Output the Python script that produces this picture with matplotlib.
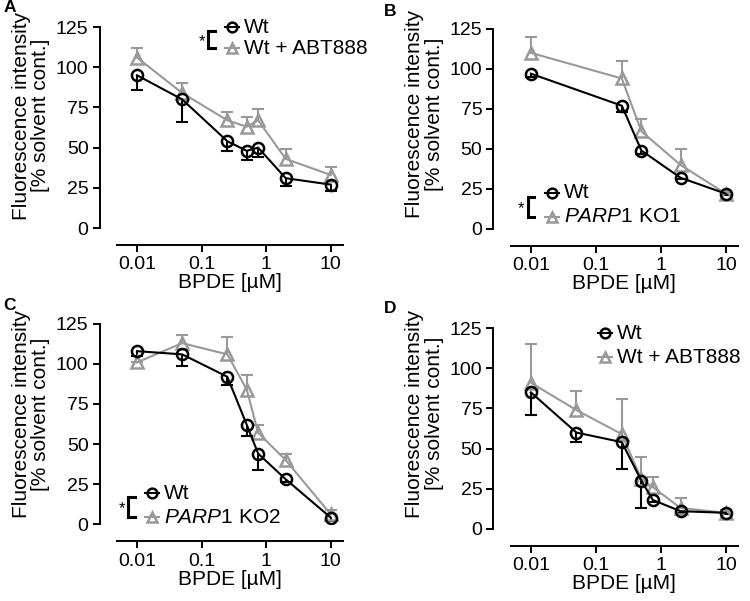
import matplotlib
matplotlib.use("Agg")
import matplotlib.pyplot as plt
from matplotlib.ticker import FixedLocator, LogLocator, NullFormatter

plt.rcParams['font.family'] = ['Liberation Sans', 'DejaVu Sans']
plt.rcParams['mathtext.fontset'] = 'custom'
plt.rcParams['mathtext.it'] = 'Liberation Sans:italic'
plt.rcParams['mathtext.rm'] = 'Liberation Sans'

GRAY = '#999999'

# BPDE concentrations [uM]
dose_full = [0.01, 0.05, 0.25, 0.5, 0.75, 2, 10]
dose_b = [0.01, 0.25, 0.5, 2, 10]

# Panel A: Wt vs Wt + ABT888
wt_a = [95, 80, 54, 48, 50, 31, 27]
wt_a_err = [9, 14, 6, 6, 6, 5, 4]
abt_a = [106, 84, 67, 63, 67, 43, 33]
abt_a_err = [6, 6, 5, 6, 7, 6, 5]

# Panel B: Wt vs PARP1 KO1
wt_b = [97, 77, 49, 32, 22]
wt_b_err = [2, 4, 2, 1, 1]
ko1_b = [110, 94, 61, 40, 22]
ko1_b_err = [10, 11, 8, 10, 1]

# Panel C: Wt vs PARP1 KO2
wt_c = [108, 106, 92, 62, 44, 28, 4]
wt_c_err = [3, 7, 5, 7, 10, 2, 2]
ko2_c = [101, 113, 106, 84, 57, 40, 6]
ko2_c_err = [0, 5, 11, 9, 5, 4, 3]

# Panel D: Wt vs Wt + ABT888
wt_d = [85, 60, 54, 30, 18, 11, 10]
wt_d_err = [14, 6, 17, 17, 1, 1, 1]
abt_d = [91, 74, 59, 31, 26, 13, 10]
abt_d_err = [24, 12, 22, 14, 6, 6, 2]

yticks = [0, 25, 50, 75, 100, 125]
xticks = [0.01, 0.1, 1, 10]
xticklabels = ['0.01', '0.1', '1', '10']

FS_TICK = 14
FS_LABEL = 15


def series(ax, x, y, err, color, marker, up):
    lo = [v - e for v, e in zip(y, err)] if not up else y
    hi = [v + e for v, e in zip(y, err)] if up else y
    ends = hi if up else lo
    ax.vlines(x, lo, hi, color=color, lw=1.5, zorder=2)
    ax.plot(x, ends, ls='none', marker='_', ms=9, mew=1.5, color=color, zorder=2)
    ax.plot(x, y, color=color, lw=1.5, marker=marker, ms=8, mew=1.8,
            mfc='none', mec=color, zorder=3)


def legend(ax, x0, y0, dy, labels, bracket):
    tr = ax.transAxes
    hw = 0.032
    for i, (lab, col, mk) in enumerate(labels):
        yy = y0 - i * dy
        ax.plot([x0 - hw, x0 + hw], [yy, yy], color=col, lw=1.5, transform=tr, clip_on=False)
        ax.plot([x0], [yy], marker=mk, ms=7, mew=1.8, mfc='none', mec=col,
                color=col, transform=tr, clip_on=False)
        ax.text(x0 + 0.052, yy, lab, transform=tr, fontsize=FS_LABEL,
                va='center', ha='left')
    if bracket:
        bx = x0 - 0.105
        top = y0 - 0.02
        bot = y0 - dy
        ax.plot([bx + 0.028, bx, bx, bx + 0.028], [top, top, bot, bot],
                color='black', lw=2.2, transform=tr, clip_on=False,
                solid_joinstyle='miter')
        ax.text(bx - 0.015, (top + bot) / 2 - 0.01, '*', transform=tr,
                fontsize=12, ha='right', va='center')


def style(ax, letter, lx, ly, ylab_y):
    ax.set_xscale('log')
    ax.set_xlim(0.0049, 15.3)
    ax.set_ylim(0, 125)
    for s in ['top', 'right']:
        ax.spines[s].set_visible(False)
    ax.spines['left'].set_position(('outward', 12.5))
    ax.spines['bottom'].set_position(('outward', 12.5))
    for s in ['left', 'bottom']:
        ax.spines[s].set_linewidth(1.4)
    ax.yaxis.set_major_locator(FixedLocator(yticks))
    ax.xaxis.set_major_locator(FixedLocator(xticks))
    ax.set_xticklabels(xticklabels)
    ax.xaxis.set_minor_locator(LogLocator(base=10, subs=range(2, 10)))
    ax.xaxis.set_minor_formatter(NullFormatter())
    ax.tick_params(axis='both', which='major', direction='out', length=5,
                   width=1.4, labelsize=FS_TICK, pad=3)
    ax.tick_params(axis='x', which='minor', direction='out', length=3, width=1.1)
    ax.set_xlabel('BPDE [µM]', fontsize=FS_LABEL, labelpad=0)
    ax.set_ylabel('Fluorescence intensity\n[% solvent cont.]',
                  fontsize=FS_LABEL, linespacing=1.05)
    ax.yaxis.set_label_coords(-0.295, ylab_y)
    ax.text(lx, ly, letter, transform=ax.transAxes, fontsize=12.5,
            fontweight='bold', ha='left', va='center')


fig = plt.figure(figsize=(7.5, 6.01), dpi=100)
ax_a = fig.add_axes([0.156, 0.6206, 0.301, 0.3344])
ax_b = fig.add_axes([0.681, 0.619, 0.303, 0.333])
ax_c = fig.add_axes([0.156, 0.128, 0.301, 0.333])
ax_d = fig.add_axes([0.681, 0.120, 0.303, 0.334])

series(ax_a, dose_full, abt_a, abt_a_err, GRAY, '^', True)
series(ax_a, dose_full, wt_a, wt_a_err, 'black', 'o', False)
style(ax_a, 'A', -0.504, 1.095, 0.56)
legend(ax_a, 0.509, 1.0, 0.105, [('Wt', 'black', 'o'), ('Wt + ABT888', GRAY, '^')], True)

series(ax_b, dose_b, ko1_b, ko1_b_err, GRAY, '^', True)
series(ax_b, dose_b, wt_b, wt_b_err, 'black', 'o', False)
style(ax_b, 'B', -0.56, 1.085, 0.575)
legend(ax_b, 0.181, 0.18, 0.12,
       [('Wt', 'black', 'o'), (r'$\mathit{PARP1}$ KO1', GRAY, '^')], True)

series(ax_c, dose_full, ko2_c, ko2_c_err, GRAY, '^', True)
series(ax_c, dose_full, wt_c, wt_c_err, 'black', 'o', False)
style(ax_c, 'C', -0.504, 1.09, 0.55)
legend(ax_c, 0.155, 0.155, 0.12,
       [('Wt', 'black', 'o'), (r'$\mathit{PARP1}$ KO2', GRAY, '^')], True)

series(ax_d, dose_full, abt_d, abt_d_err, GRAY, '^', True)
series(ax_d, dose_full, wt_d, wt_d_err, 'black', 'o', False)
style(ax_d, 'D', -0.56, 1.10, 0.575)
legend(ax_d, 0.414, 0.975, 0.12, [('Wt', 'black', 'o'), ('Wt + ABT888', GRAY, '^')], False)

fig.savefig('out.png', dpi=100)
